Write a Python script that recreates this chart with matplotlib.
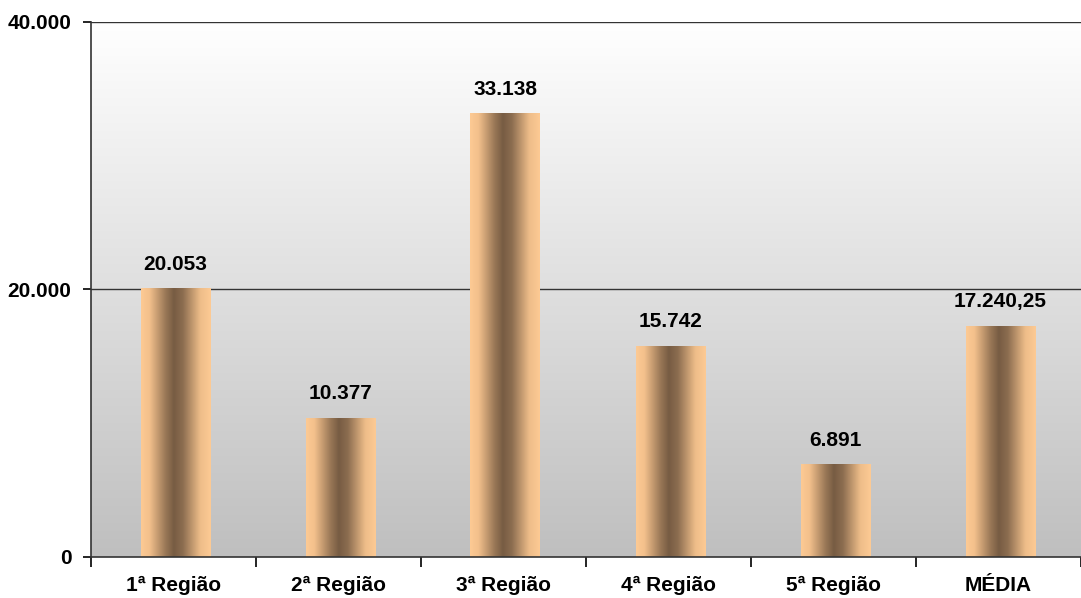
import numpy as np
import matplotlib.pyplot as plt
from matplotlib.colors import LinearSegmentedColormap
from matplotlib.ticker import FixedLocator, FuncFormatter

categories = ["1ª Região", "2ª Região", "3ª Região", "4ª Região", "5ª Região", "MÉDIA"]
values = [20053, 10377, 33138, 15742, 6891, 17240.25]
y_ticks = [0, 20000, 40000]


def br_format(v):
    """Format number Brazilian style: thousands '.', decimals ','"""
    if float(v).is_integer():
        return f"{int(v):,}".replace(",", ".")
    s = f"{v:,.2f}"
    return s.replace(",", "X").replace(".", ",").replace("X", ".")


plt.rcParams["font.family"] = ["Liberation Sans", "DejaVu Sans"]
plt.rcParams["font.weight"] = "bold"

fig = plt.figure(figsize=(10.81, 5.98), dpi=100)
ax = fig.add_axes([91 / 1081, 1 - 557 / 598, 990 / 1081, 535 / 598])

x = np.arange(len(categories))
ax.set_xlim(-0.5, len(categories) - 0.5)
ax.set_ylim(0, 40000)

# background gradient, white at top to gray at bottom
bg_cmap = LinearSegmentedColormap.from_list("bg", ["#bfbfbf", "#ffffff"])
grad = np.linspace(0, 1, 256).reshape(-1, 1)
ax.imshow(grad, cmap=bg_cmap, aspect="auto", extent=[0, 1, 0, 1],
          origin="lower", transform=ax.transAxes, zorder=0)

# horizontal grid lines
for t in y_ticks[1:]:
    ax.axhline(t, color="#333333", lw=1.0, zorder=1)

bars = ax.bar(x + 0.01, values, width=0.42, color="none", zorder=2)

bar_cmap = LinearSegmentedColormap.from_list(
    "bar", [(0, "#fdca94"), (0.12, "#f3c08c"), (0.35, "#9a7857"),
            (0.47, "#775c43"), (0.6, "#8c6d50"), (0.85, "#eebd89"), (1, "#fdca94")])
hgrad = np.linspace(0, 1, 256).reshape(1, -1)
for b in bars:
    x0, w, h = b.get_x(), b.get_width(), b.get_height()
    ax.imshow(hgrad, cmap=bar_cmap, aspect="auto",
              extent=[x0, x0 + w, 0, h], zorder=2)

for xi, v in zip(x, values):
    ax.annotate(br_format(v), (xi + 0.01, v), xytext=(0, 11), textcoords="offset points",
                ha="center", va="bottom", fontsize=15, fontweight="bold")

ax.set_xlim(-0.5, len(categories) - 0.5)
ax.set_ylim(0, 40000)

ax.yaxis.set_major_locator(FixedLocator(y_ticks))
ax.yaxis.set_major_formatter(FuncFormatter(lambda v, p: br_format(v)))
ax.set_xticks(x)
ax.set_xticklabels(categories)
ax.xaxis.set_minor_locator(FixedLocator(np.arange(-0.5, len(categories), 1.0)))
ax.tick_params(axis="x", which="major", length=0, pad=13.5, labelsize=15)
ax.tick_params(axis="x", which="minor", length=7, width=1.2, direction="out")
ax.tick_params(axis="y", length=6, width=1.2, direction="out", pad=8, labelsize=15)

for s in ["top", "right"]:
    ax.spines[s].set_visible(False)
ax.spines["left"].set_color("#333333")
ax.spines["bottom"].set_color("#333333")
ax.spines["left"].set_linewidth(1.2)
ax.spines["bottom"].set_linewidth(1.2)

fig.savefig("out.png", dpi=100)
